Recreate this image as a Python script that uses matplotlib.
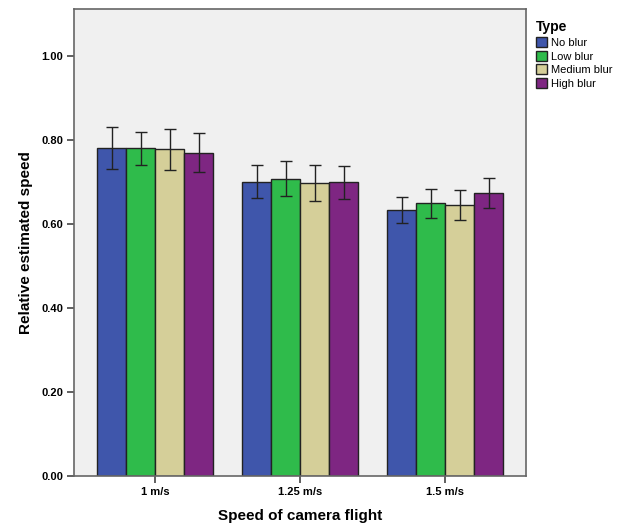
import numpy as np
import matplotlib
matplotlib.use('Agg')
import matplotlib.pyplot as plt

plt.rcParams['font.family'] = ['Liberation Sans', 'DejaVu Sans']

# data
speeds = ["1 m/s", "1.25 m/s", "1.5 m/s"]
blur_types = ["No blur", "Low blur", "Medium blur", "High blur"]
no_blur = [0.781, 0.701, 0.633]
low_blur = [0.780, 0.708, 0.649]
medium_blur = [0.778, 0.698, 0.645]
high_blur = [0.770, 0.699, 0.674]
no_blur_err = [0.049, 0.040, 0.031]
low_blur_err = [0.040, 0.041, 0.035]
medium_blur_err = [0.049, 0.043, 0.035]
high_blur_err = [0.046, 0.039, 0.036]

colors = ['#3f56ab', '#2fbb4b', '#d5cf99', '#7e2682']

fig = plt.figure(figsize=(6.34, 5.27), dpi=100)
ax = fig.add_axes([0.117, 0.097, 0.713, 0.886])
ax.set_facecolor('#f0f0f0')

x = np.arange(len(speeds))
width = 0.2
series = [no_blur, low_blur, medium_blur, high_blur]
errors = [no_blur_err, low_blur_err, medium_blur_err, high_blur_err]

for i, (vals, errs) in enumerate(zip(series, errors)):
    pos = x + (i - 1.5) * width
    ax.bar(pos, vals, width, color=colors[i], edgecolor='#222222', linewidth=1.0,
           label=blur_types[i], zorder=2)
    ax.errorbar(pos, vals, yerr=errs, fmt='none', ecolor='#222222', elinewidth=1.0,
                capsize=4, capthick=1.0, zorder=3)

ax.set_xlim(-0.559, 2.559)
ax.set_ylim(0, 1.112)
ax.set_yticks([0, 0.2, 0.4, 0.6, 0.8, 1.0])
ax.set_yticklabels(["0.00", "0.20", "0.40", "0.60", "0.80", "1.00"], fontweight='bold', fontsize=8)
ax.set_xticks(x)
ax.set_xticklabels(speeds, fontweight='bold', fontsize=8)
ax.tick_params(axis='both', length=5, width=1.2, color='#444444', pad=3)

for s in ax.spines.values():
    s.set_color('#666666')
    s.set_linewidth(1.2)

ax.set_xlabel("Speed of camera flight", fontsize=11, fontweight='bold', labelpad=9)
ax.set_ylabel("Relative estimated speed", fontsize=11, fontweight='bold', labelpad=6)

# legend outside the plot, top right
leg = fig.legend(loc='upper left', bbox_to_anchor=(0.833, 0.976), title="Type",
                 frameon=False, fontsize=8, title_fontsize=10, handlelength=1.0,
                 handleheight=1.0, handletextpad=0.4, labelspacing=0.25,
                 borderpad=0.2, alignment='left')
leg.get_title().set_fontweight('bold')

fig.savefig('out.png', dpi=100)
